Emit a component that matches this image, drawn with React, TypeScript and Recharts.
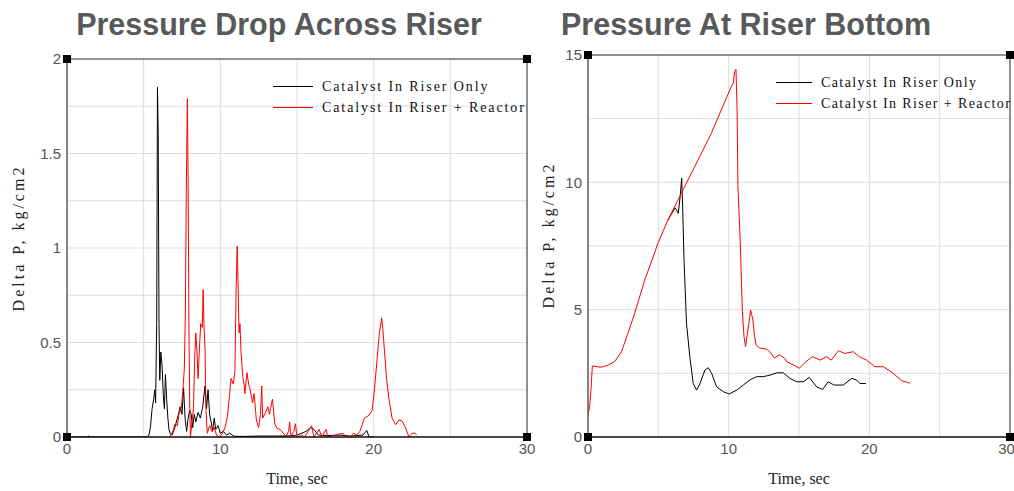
import { CartesianGrid, Line, LineChart, ReferenceArea, ReferenceDot, XAxis, YAxis } from "recharts";

// pressure drop across riser (kg/cm2 vs sec)
const dropOnlyTime = [0, 1.3, 1.4, 1.5, 5.2, 5.35, 5.45, 5.55, 5.65, 5.72, 5.78, 5.85, 5.9, 5.95, 6.0, 6.05, 6.12, 6.2, 6.28, 6.35, 6.42, 6.5, 6.58, 6.65, 6.72, 6.85, 7.0, 7.1, 7.2, 7.3, 7.38, 7.5, 7.6, 7.7, 7.8, 7.9, 8.0, 8.1, 8.2, 8.3, 8.4, 8.55, 8.7, 8.85, 9.0, 9.1, 9.2, 9.3, 9.4, 9.5, 9.6, 9.7, 9.85, 10.0, 10.2, 10.4, 10.6, 10.9, 11.5, 12.5, 13.5, 14.5, 15.0, 15.6, 15.9, 16.1, 16.4, 17.0, 17.8, 18.5, 19.3, 19.55, 19.7, 20];
const dropOnlyValue = [0, 0, 0.005, 0, 0, 0.01, 0.06, 0.15, 0.2, 0.25, 0.18, 0.6, 1.85, 1.6, 0.6, 0.3, 0.45, 0.38, 0.22, 0.15, 0.33, 0.2, 0.1, 0.04, 0.02, 0.01, 0.04, 0.07, 0.1, 0.13, 0.16, 0.12, 0.26, 0.1, 0.03, 0.1, 0.14, 0.12, 0.05, 0.12, 0.08, 0.13, 0.1, 0.16, 0.27, 0.15, 0.25, 0.12, 0.08, 0.03, 0.1, 0.04, 0.06, 0.02, 0.03, 0.01, 0.02, 0.004, 0.003, 0.005, 0.005, 0.006, 0.01, 0.03, 0.05, 0.04, 0.01, 0.008, 0.01, 0.005, 0.01, 0.035, 0, 0];

const dropReactorTime = [6.7, 6.9, 7.05, 7.2, 7.3, 7.45, 7.55, 7.65, 7.72, 7.78, 7.85, 7.9, 7.95, 8.0, 8.05, 8.15, 8.25, 8.32, 8.4, 8.48, 8.55, 8.62, 8.72, 8.82, 8.88, 8.93, 9.0, 9.07, 9.15, 9.3, 9.45, 9.6, 9.75, 9.95, 10.15, 10.3, 10.45, 10.6, 10.7, 10.85, 10.95, 11.03, 11.1, 11.16, 11.22, 11.28, 11.35, 11.46, 11.55, 11.6, 11.74, 11.85, 11.95, 12.1, 12.2, 12.35, 12.5, 12.62, 12.7, 12.76, 12.95, 13.1, 13.2, 13.27, 13.4, 13.55, 13.7, 13.9, 14.1, 14.3, 14.45, 14.52, 14.6, 14.8, 14.9, 15.0, 15.3, 15.5, 15.95, 16.1, 16.45, 16.6, 16.9, 17.0, 17.5, 18.0, 18.2, 18.46, 18.68, 18.9, 19.1, 19.4, 19.7, 19.9, 20.05, 20.2, 20.37, 20.52, 20.6, 20.7, 20.85, 21.0, 21.2, 21.43, 21.65, 21.85, 22.07, 22.3, 22.5, 22.7, 22.8];
const dropReactorValue = [0, 0.03, 0.07, 0.06, 0.12, 0.15, 0.24, 0.36, 0.65, 1.3, 1.79, 1.36, 0.6, 0.2, 0, 0.08, 0.15, 0.4, 0.55, 0.45, 0.31, 0.44, 0.6, 0.58, 0.78, 0.6, 0.47, 0.13, 0.02, 0.06, 0.03, 0.05, 0.01, 0, 0.02, 0.05, 0.1, 0.22, 0.31, 0.28, 0.35, 0.78, 1.01, 0.8, 0.55, 0.6, 0.45, 0.32, 0.28, 0.23, 0.34, 0.28, 0.25, 0.18, 0.23, 0.09, 0.05, 0.12, 0.27, 0.1, 0.13, 0.16, 0.12, 0.15, 0.2, 0.07, 0.045, 0.04, 0.02, 0.005, 0.03, 0.08, 0.005, 0.03, 0.07, 0, 0.01, 0, 0.06, 0, 0.04, 0, 0.04, 0, 0.01, 0.02, 0, 0, 0.02, 0.01, 0.03, 0.1, 0.115, 0.14, 0.25, 0.39, 0.55, 0.63, 0.57, 0.46, 0.3, 0.2, 0.1, 0.065, 0.09, 0.085, 0.05, 0, 0.02, 0.02, 0.01];

// pressure at riser bottom (black trace hidden under the red one before ~5.7 s)
const bottomOnlyTime = [5.68, 6.2, 6.42, 6.55, 6.66, 6.73, 6.82, 7.0, 7.24, 7.48, 7.72, 7.96, 8.31, 8.55, 8.79, 9.14, 9.62, 10.02, 10.57, 11.04, 11.51, 11.99, 12.46, 12.94, 13.41, 13.88, 14.36, 14.83, 15.31, 15.73, 16.25, 16.68, 17.08, 17.48, 18.15, 18.74, 19.1, 19.33, 19.76];
const bottomOnlyValue = [8.52, 9.0, 8.78, 9.43, 10.16, 9.04, 7.08, 4.47, 3.15, 2.1, 1.84, 2.1, 2.63, 2.72, 2.5, 1.97, 1.78, 1.69, 1.84, 2.04, 2.24, 2.37, 2.37, 2.43, 2.52, 2.52, 2.3, 2.17, 2.17, 2.34, 1.97, 1.87, 2.17, 2.04, 2.04, 2.3, 2.24, 2.1, 2.1];

const bottomReactorTime = [0, 0.11, 0.21, 0.31, 0.62, 0.97, 1.44, 1.9, 2.38, 2.84, 3.32, 4.03, 4.97, 5.68, 6.39, 7.58, 8.76, 10.18, 10.33, 10.42, 10.52, 10.6, 10.66, 10.78, 10.85, 10.97, 11.09, 11.2, 11.37, 11.56, 11.72, 11.84, 11.96, 12.2, 12.67, 12.9, 13.26, 13.6, 13.97, 14.12, 14.6, 15.02, 15.5, 15.95, 16.5, 16.96, 17.3, 17.8, 18.25, 18.85, 19.3, 19.8, 20.4, 21.0, 21.7, 22.3, 22.9];
const bottomReactorValue = [0.86, 1.19, 1.84, 2.79, 2.76, 2.74, 2.83, 2.96, 3.35, 4.07, 4.86, 6.16, 7.6, 8.52, 9.3, 10.61, 11.92, 13.75, 13.9, 14.34, 14.44, 12.84, 9.83, 8.26, 7.22, 4.99, 3.94, 3.55, 4.2, 4.99, 4.6, 3.94, 3.6, 3.5, 3.45, 3.36, 3.1, 3.23, 3.1, 2.96, 2.83, 2.7, 2.96, 3.15, 3.02, 3.15, 3.02, 3.39, 3.28, 3.35, 3.15, 3.02, 2.76, 2.76, 2.5, 2.21, 2.11];

const seriesNames = ["Catalyst In Riser Only", "Catalyst In Riser + Reactor"];
const seriesColors = ["#000000", "#ff0000"];
const timeTicks = [0, 10, 20, 30];
const timeGrid = [0, 5, 10, 15, 20, 25, 30];
const dropTicks = [0, 0.5, 1, 1.5, 2];
const dropGrid = [0, 0.25, 0.5, 0.75, 1, 1.25, 1.5, 1.75, 2];
const bottomTicks = [0, 5, 10, 15];
const bottomGrid = [0, 2.5, 5, 7.5, 10, 12.5, 15];

const zip = (t: number[], v: number[]) => t.map((time, i) => ({ time, value: v[i] }));

const tickStyle = { fill: "#555", fontSize: 15, fontFamily: "Liberation Sans" };
const serif = "Liberation Serif";

const Square = (props: any) => <rect x={props.cx - 4} y={props.cy - 4} width={8} height={8} fill="#000" />;

function LegendBox({ left, top, lineWidth, spacing }: { left: number; top: number; lineWidth: number; spacing: number }) {
  return (
    <div style={{ position: "absolute", left, top, fontFamily: serif, fontSize: 14, letterSpacing: spacing, color: "#111", lineHeight: "21px" }}>
      {seriesNames.map((name, i) => (
        <div key={name} style={{ display: "flex", alignItems: "center", whiteSpace: "nowrap" }}>
          <span style={{ display: "inline-block", width: lineWidth, height: 0, borderTop: `1px solid ${seriesColors[i]}`, marginRight: 9 }} />
          {name}
        </div>
      ))}
    </div>
  );
}

type PanelProps = {
  left: number;
  width: number;
  margin: { top: number; right: number; bottom: number; left: number };
  yMax: number;
  yTicks: number[];
  yGrid: number[];
  only: { time: number; value: number }[];
  reactor: { time: number; value: number }[];
};

function Panel({ left, width, margin, yMax, yTicks, yGrid, only, reactor }: PanelProps) {
  return (
    <div style={{ position: "absolute", left, top: 0 }}>
      <LineChart width={width} height={491} margin={margin}>
        <CartesianGrid stroke="#dddddd" horizontalValues={yGrid} verticalValues={timeGrid} />
        <XAxis dataKey="time" type="number" domain={[0, 30]} ticks={timeTicks} allowDataOverflow tickLine={false} axisLine={{ stroke: "#000" }} tick={tickStyle} tickSize={3} tickMargin={3} height={30} />
        <YAxis type="number" domain={[0, yMax]} ticks={yTicks} allowDataOverflow tickLine={false} axisLine={{ stroke: "#777" }} tick={tickStyle} tickSize={3} tickMargin={3} width={30} />
        <ReferenceArea x1={0} x2={30} y1={0} y2={yMax} fill="none" stroke="#333" strokeWidth={1} ifOverflow="visible" />
        <Line data={only} dataKey="value" name={seriesNames[0]} stroke={seriesColors[0]} strokeWidth={1} dot={false} type="linear" isAnimationActive={false} />
        <Line data={reactor} dataKey="value" name={seriesNames[1]} stroke={seriesColors[1]} strokeWidth={1} dot={false} type="linear" isAnimationActive={false} />
        <ReferenceDot x={0} y={0} shape={Square} ifOverflow="visible" />
        <ReferenceDot x={30} y={0} shape={Square} ifOverflow="visible" />
        <ReferenceDot x={0} y={yMax} shape={Square} ifOverflow="visible" />
        <ReferenceDot x={30} y={yMax} shape={Square} ifOverflow="visible" />
      </LineChart>
    </div>
  );
}

const titleStyle: any = { position: "absolute", top: 7, fontFamily: "Liberation Sans", fontWeight: "bold", fontSize: 30.5, color: "#58595b", whiteSpace: "nowrap", transform: "translateX(-50%)" };
const xLabelStyle: any = { position: "absolute", top: 470, fontFamily: serif, fontSize: 16, color: "#222", whiteSpace: "nowrap", transform: "translateX(-50%)" };
const yLabelStyle: any = { position: "absolute", fontFamily: serif, fontSize: 16, letterSpacing: 3, color: "#222", whiteSpace: "nowrap", transform: "translate(-50%, -50%) rotate(-90deg)" };

export default function App() {
  return (
    <div style={{ position: "absolute", left: 0, top: 0, width: 1014, height: 491, background: "#fff", overflow: "hidden" }}>
      <Panel left={0} width={540} margin={{ top: 59, right: 13, bottom: 24, left: 37 }} yMax={2} yTicks={dropTicks} yGrid={dropGrid} only={zip(dropOnlyTime, dropOnlyValue)} reactor={zip(dropReactorTime, dropReactorValue)} />
      <Panel left={530} width={484} margin={{ top: 55, right: 4, bottom: 24, left: 28 }} yMax={15} yTicks={bottomTicks} yGrid={bottomGrid} only={zip(bottomOnlyTime, bottomOnlyValue)} reactor={zip(bottomReactorTime, bottomReactorValue)} />
      <LegendBox left={273} top={76} lineWidth={40} spacing={1.9} />
      <LegendBox left={776} top={72} lineWidth={36} spacing={1.4} />
      <div style={{ ...titleStyle, left: 279 }}>Pressure Drop Across Riser</div>
      <div style={{ ...titleStyle, left: 746 }}>Pressure At Riser Bottom</div>
      <div style={{ ...xLabelStyle, left: 297 }}>Time, sec</div>
      <div style={{ ...xLabelStyle, left: 799 }}>Time, sec</div>
      <div style={{ ...yLabelStyle, left: 19, top: 238 }}>Delta P, kg/cm2</div>
      <div style={{ ...yLabelStyle, left: 549, top: 235 }}>Delta P, kg/cm2</div>
    </div>
  );
}
